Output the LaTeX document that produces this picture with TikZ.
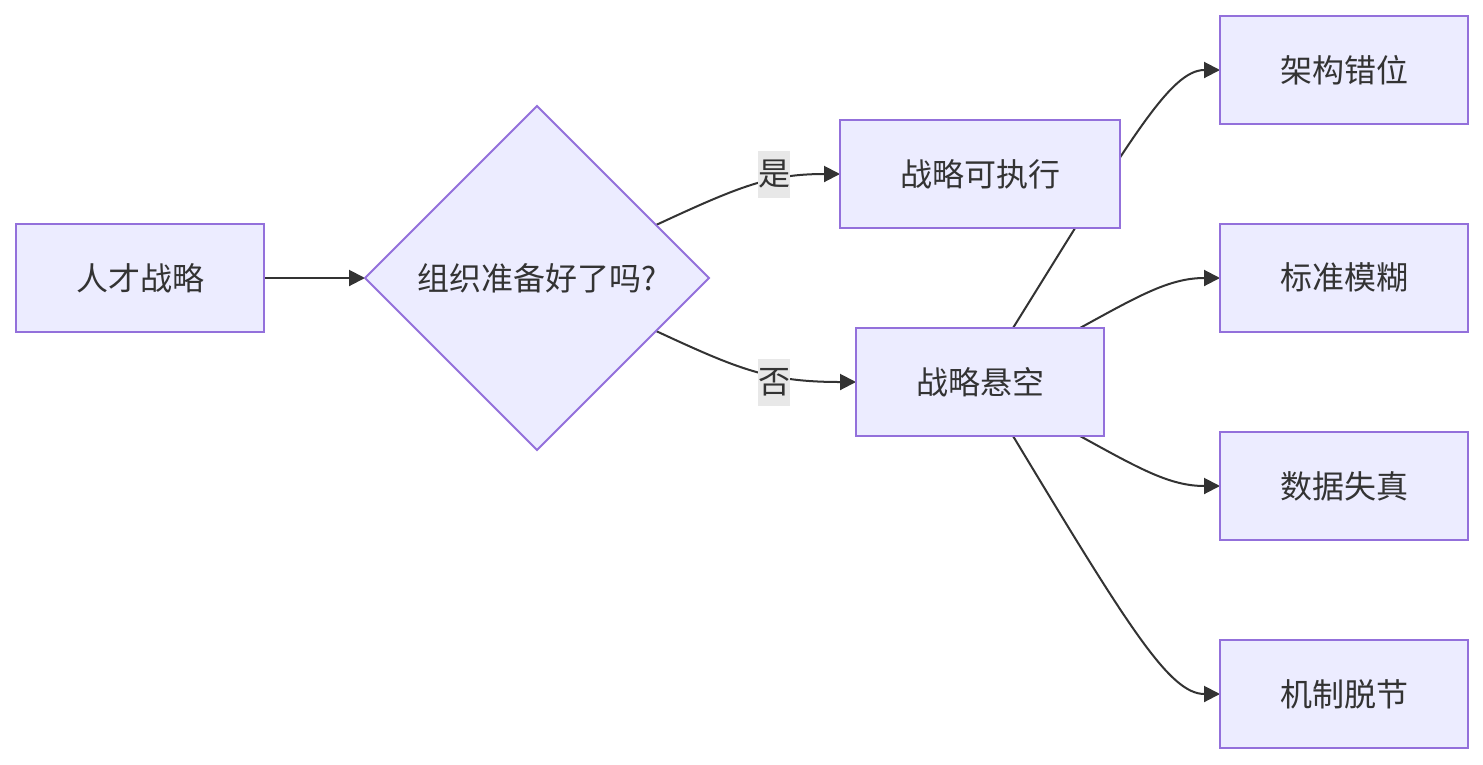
\documentclass[tikz,border=0pt]{standalone}
\usepackage{fontspec}
\setmainfont{Noto Sans CJK SC}
\usetikzlibrary{shapes.geometric,arrows.meta,backgrounds}
\definecolor{nodefill}{HTML}{ECECFF}
\definecolor{nodeborder}{HTML}{9370DB}
\definecolor{ink}{HTML}{333333}
\definecolor{lblbg}{HTML}{E8E8E8}
\tikzset{
  box/.style={draw=nodeborder, fill=nodefill, line width=2pt, rectangle,
    minimum width=248pt, minimum height=108pt, inner sep=0pt, outer sep=0pt,
    text=ink, font=\fontsize{32}{38}\selectfont},
  decision/.style={draw=nodeborder, fill=nodefill, line width=2pt, diamond, aspect=1,
    minimum width=344pt, minimum height=344pt, inner sep=0pt, outer sep=0pt,
    text=ink, font=\fontsize{32}{38}\selectfont},
  link/.style={draw=ink, line width=2pt, -{Triangle[length=16pt,width=16pt]}},
  elabel/.style={fill=lblbg, inner sep=0pt, minimum width=32pt, minimum height=47pt,
    text=ink, font=\fontsize{32}{38}\selectfont}
}
\begin{document}
\begin{tikzpicture}[x=1pt,y=-1pt]
\useasboundingbox (0,0) rectangle (1483,764);
\node[box] (rc) at (140,278) {人才战略};
\node[decision] (d) at (537,278) {组织准备好了吗?};
\node[box, minimum width=280pt] (ok) at (980,174) {战略可执行};
\node[box] (s) at (980,382) {战略悬空};
\node[box] (a) at (1344,70) {架构错位};
\node[box] (b) at (1344,278) {标准模糊};
\node[box] (c) at (1344,486) {数据失真};
\node[box] (e) at (1344,694) {机制脱节};
\begin{scope}[on background layer]
\draw[link] (rc.east) -- (d.west);
\draw[link] (d.24) .. controls (740,186) and (770,174) .. (ok.west);
\draw[link] (d.-24) .. controls (740,370) and (770,382) .. (s.west);
\draw[link] ([xshift=33pt]s.north) .. controls (1130,140) and (1170,70) .. (a.west);
\draw[link] ([xshift=100pt]s.north) .. controls (1140,295) and (1170,278) .. (b.west);
\draw[link] ([xshift=100pt]s.south) .. controls (1140,469) and (1170,486) .. (c.west);
\draw[link] ([xshift=33pt]s.south) .. controls (1130,630) and (1170,694) .. (e.west);
\end{scope}
\node[elabel] (ly) at (774,174) {是};
\node[elabel] (ln) at (774,382) {否};
\end{tikzpicture}
\end{document}
